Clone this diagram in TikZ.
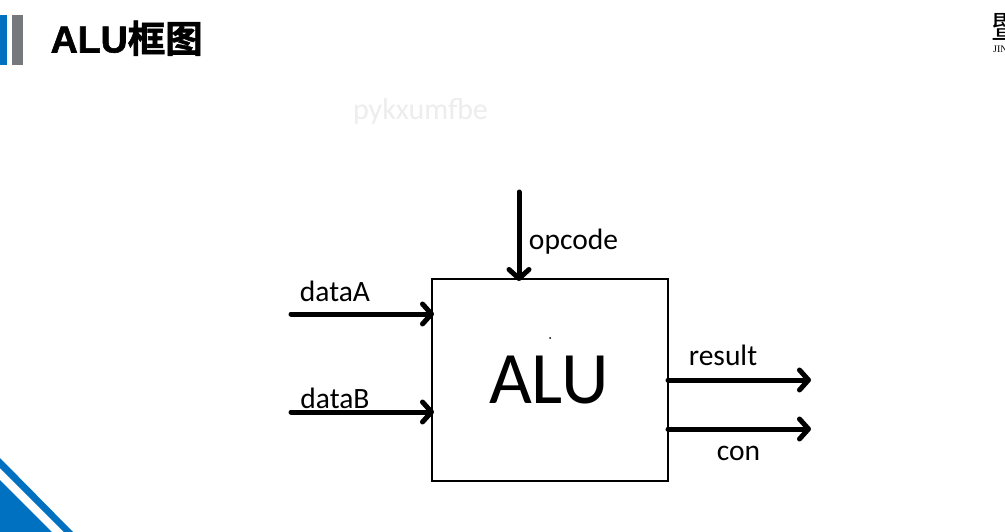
\documentclass[tikz,border=0pt]{standalone}
\usepackage{fontspec}
\setmainfont{Carlito}
\newfontfamily\titlefont[FakeBold=1.5]{Liberation Sans Bold}
\newfontfamily\cjktitle[FakeBold=1.5]{Noto Sans CJK SC Bold}
\newfontfamily\cjklogo{Noto Sans CJK SC}
\newfontfamily\logolatin{Liberation Serif}
\usetikzlibrary{arrows.meta}
\definecolor{brandblue}{HTML}{0070C0}
\definecolor{brandgray}{HTML}{75787C}
\tikzset{
  sig/.style={line width=5pt, line cap=round, -{Straight Barb[round,length=9pt,width=20pt,line width=5pt]}},
  lab/.style={inner sep=0pt, anchor=base, font=\fontsize{29.5}{29.5}\selectfont},
}
\begin{document}
\begin{tikzpicture}[x=1pt,y=-1pt]
\useasboundingbox (0,0) rectangle (1005,532);
\fill[white] (0,0) rectangle (1005,532);
% header
\fill[brandblue] (0,15) rectangle (7,65);
\fill[brandgray] (12,15) rectangle (23,65);
\node[inner sep=0pt,anchor=base west] (title) at (50.5,52.5) {\fontsize{37.5}{37.5}\selectfont\titlefont ALU\cjktitle 框图};
% logo clipped at page edge
\begin{scope}
\clip (0,0) rectangle (1005,532);
\node[inner sep=0pt,anchor=center] (logo) at (1006.5,27) {\fontsize{31}{31}\selectfont\cjklogo 暨};
\node[inner sep=0pt,anchor=base west] (logotext) at (993,53) {\fontsize{10}{10}\selectfont\logolatin JIN};
\end{scope}
% watermark
\node[inner sep=0pt,anchor=base] (mark) at (420.5,120) {\fontsize{30}{30}\selectfont\color{black!7}pykxumfbe};
% corner
\fill[brandblue] (0,480) -- (52,532) -- (0,532) -- cycle;
\fill[brandblue] (0,458) -- (73,532) -- (64,532) -- (0,468) -- cycle;
% box
\node[draw,line width=2pt,minimum width=236pt,minimum height=202pt,inner sep=0pt] (alu) at (549.5,380) {};
\node[inner sep=0pt,anchor=base] (alulabel) at (549,403) {\fontsize{74}{74}\selectfont ALU};
\fill (550,338) circle (1pt);
% free ends
\coordinate (opS) at (519,192);
\coordinate (opE) at (519,281);
\coordinate (aS) at (291,314);
\coordinate (aE) at (434,314);
\coordinate (bS) at (291,412);
\coordinate (bE) at (434,412);
\coordinate (rS) at (668,380);
\coordinate (rE) at (811,380);
\coordinate (cS) at (668,429);
\coordinate (cE) at (811,429);
\draw[sig] (opS) -- (opE);
\draw[sig] (aS) -- (aE);
\draw[sig] (bS) -- (bE);
\draw[sig] (rS) -- (rE);
\draw[sig] (cS) -- (cE);
% labels
\node[lab] (lop) at (573.5,250) {opcode};
\node[lab] (la) at (335,301) {dataA};
\node[lab] (lb) at (335,408) {dataB};
\node[lab] (lr) at (723,365) {result};
\node[lab] (lc) at (738.5,460) {con};
\end{tikzpicture}
\end{document}
